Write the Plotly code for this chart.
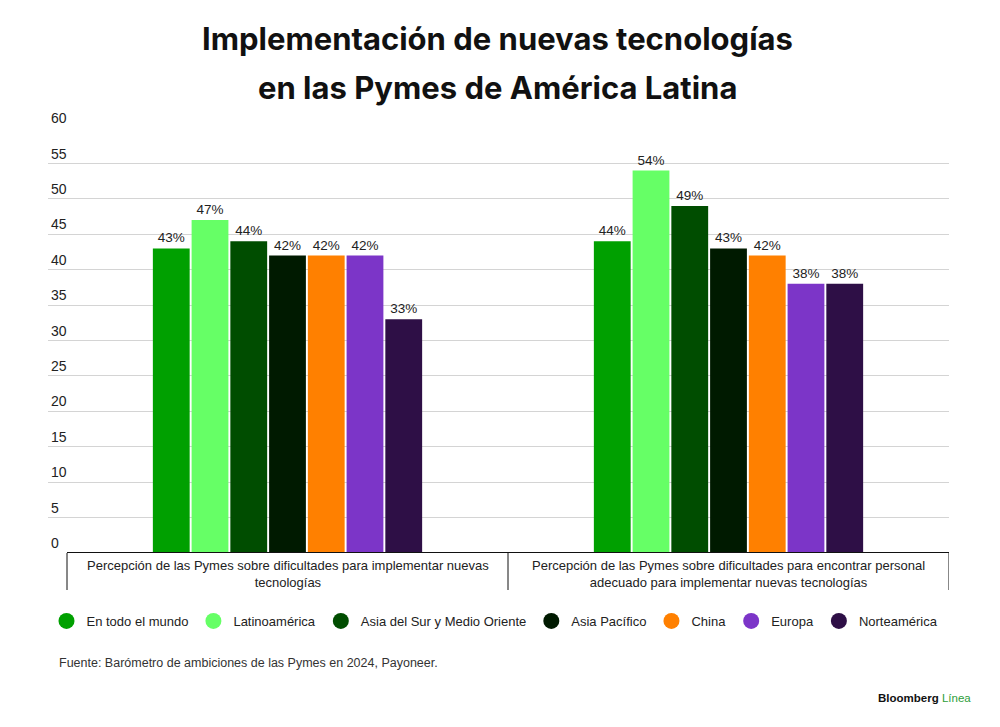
import plotly.graph_objects as go

CATEGORIES = [
    "Percepción de las Pymes sobre dificultades para implementar nuevas<br>tecnologías",
    "Percepción de las Pymes sobre dificultades para encontrar personal<br>adecuado para implementar nuevas tecnologías",
]
REGIONS = ["En todo el mundo", "Latinoamérica", "Asia del Sur y Medio Oriente",
           "Asia Pacífico", "China", "Europa", "Norteamérica"]
IMPLEMENTAR = [43, 47, 44, 42, 42, 42, 33]
PERSONAL = [44, 54, 49, 43, 42, 38, 38]
COLORS = ["#00a000", "#66ff66", "#004d00", "#001a00", "#ff8000", "#7c35c8", "#2e0f46"]
Y_TICKS = list(range(0, 61, 5))

TITLE_FONT = "Inter, Roboto, Arial, sans-serif"
FONT = "'Liberation Sans', Arial, sans-serif"

# the page body has an 8px margin, so the canvas is 992x719 and offset by 8px
W, H = 992, 719
L, R, T, B = 40, 51, 120, 174
PW, PH = W - L - R, H - T - B


def px_x(x):
    """Reference screenshot x (px) -> paper x."""
    return (x - 8 - L) / PW


def px_y(y):
    """Reference screenshot y (px) -> paper y."""
    return (H - B - (y - 8)) / PH


fig = go.Figure()
for i, region in enumerate(REGIONS):
    fig.add_trace(go.Bar(
        x=[0, 1], y=[IMPLEMENTAR[i], PERSONAL[i]],
        name=region, marker=dict(color=COLORS[i], line=dict(width=0)),
        text=[f"{IMPLEMENTAR[i]}%", f"{PERSONAL[i]}%"],
        textposition="outside", cliponaxis=False,
        textfont=dict(size=13.5, color="#222", family=FONT),
        showlegend=False,
    ))
    # circle markers for the legend
    fig.add_trace(go.Scatter(
        x=[None], y=[None], mode="markers", name=region,
        marker=dict(symbol="circle", size=16, color=COLORS[i]),
    ))

# category axis: baseline, dividers, labels
fig.add_shape(type="line", xref="x", yref="y", x0=-0.5, x1=1.5, y0=0, y1=0,
              line=dict(color="#111", width=2))
for xd in [-0.5, 0.5, 1.5]:
    fig.add_shape(type="line", xref="x", yref="paper", x0=xd, x1=xd, y0=0, y1=-37 / PH,
                  line=dict(color="#111", width=1))
for i, cat in enumerate(CATEGORIES):
    fig.add_annotation(x=i, y=0, xref="x", yref="y", yshift=-3, text=cat,
                       showarrow=False, yanchor="top", align="center",
                       font=dict(size=13, color="#222", family=FONT))

for text, ypx in [("<b>Implementación de nuevas tecnologías</b>", 38),
                  ("<b>en las Pymes de América Latina</b>", 87)]:
    fig.add_annotation(text=text, x=px_x(497), y=px_y(ypx),
                       xref="paper", yref="paper", xanchor="center", yanchor="middle",
                       showarrow=False, font=dict(size=31, color="#111", family=TITLE_FONT))
fig.add_annotation(text="Fuente: Barómetro de ambiciones de las Pymes en 2024, Payoneer.",
                   x=px_x(57), y=px_y(663), xref="paper", yref="paper",
                   xanchor="left", yanchor="middle", showarrow=False,
                   font=dict(size=12.5, color="#333", family=FONT))
fig.add_annotation(text="<b>Bloomberg</b> <span style='color:#2e9e3a'>Línea</span>",
                   x=px_x(973), y=px_y(698), xref="paper", yref="paper",
                   xanchor="right", yanchor="middle", showarrow=False,
                   font=dict(size=11.5, color="#111", family=FONT))

fig.update_layout(
    barmode="group", bargap=0.385, bargroupgap=0.05,
    width=W, height=H,
    margin=dict(l=L, r=R, t=T, b=B),
    plot_bgcolor="white", paper_bgcolor="white",
    font=dict(family=FONT, color="#222"),
    xaxis=dict(range=[-0.5 - 19 / 441, 1.5], showticklabels=False, showgrid=False,
               zeroline=False, automargin=False),
    yaxis=dict(range=[0, 60], tickvals=Y_TICKS, ticklabelposition="inside top",
               ticklabeloverflow="allow", automargin=False,
               showgrid=True, gridcolor="#d4d4d4", gridwidth=1, zeroline=False,
               tickfont=dict(size=14, color="#222", family=FONT)),
    legend=dict(orientation="h", x=px_x(495), xanchor="center", y=px_y(606), yanchor="top",
                font=dict(size=13, color="#222", family=FONT), itemwidth=30,
                tracegroupgap=0),
)

fig.write_html("out.html")
